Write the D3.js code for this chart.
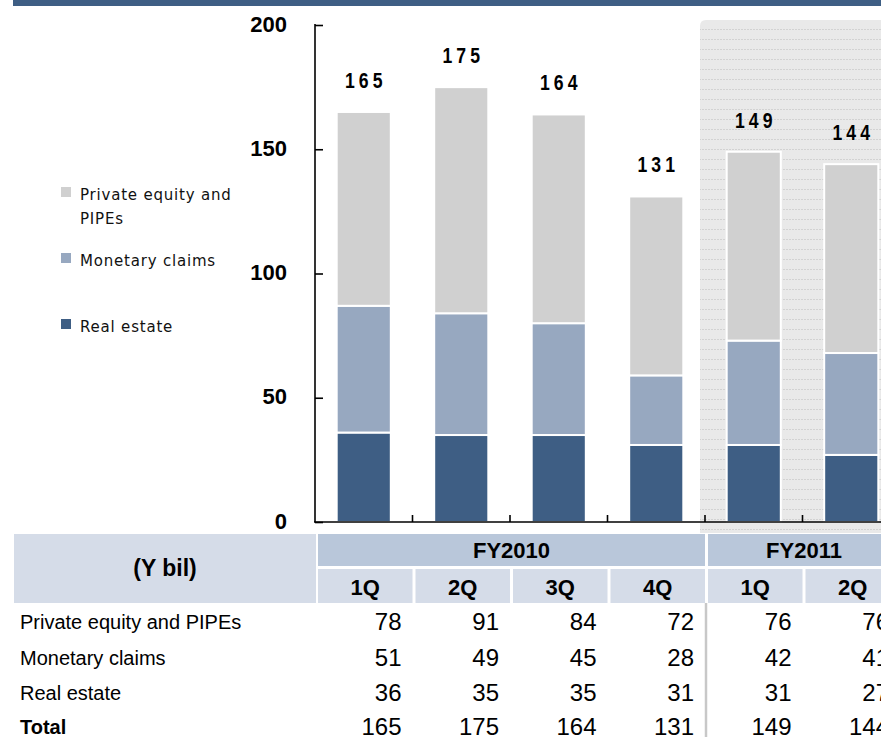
<!DOCTYPE html>
<meta charset="utf-8">
<style>

body {
  margin: 0;
  background: #fff;
}

.axis path,
.axis line {
  stroke: #000;
  stroke-width: 1.6px;
}

.axis text {
  font: bold 22px Arial, "Liberation Sans", sans-serif;
  fill: #000;
}

.legend text {
  font: 15px "DejaVu Sans", sans-serif;
  letter-spacing: 0.8px;
  fill: #111;
}

.totals text {
  font: bold 22px Arial, "Liberation Sans", sans-serif;
  letter-spacing: 5px;
  fill: #000;
}

.table text {
  font-family: Arial, "Liberation Sans", sans-serif;
  fill: #000;
}

</style>
<svg width="881" height="737"></svg>
<script src="https://d3js.org/d3.v7.min.js"></script>
<script>

// values
var years = ["FY2010", "FY2010", "FY2010", "FY2010", "FY2011", "FY2011"];
var quarters = ["1Q", "2Q", "3Q", "4Q", "1Q", "2Q"];
var privateEquity = [78, 91, 84, 72, 76, 76];
var monetaryClaims = [51, 49, 45, 28, 42, 41];
var realEstate = [36, 35, 35, 31, 31, 27];
var totals = [165, 175, 164, 131, 149, 144];
var yTicks = [0, 50, 100, 150, 200];

var seriesNames = ["Private equity and PIPEs", "Monetary claims", "Real estate"];
var colors = {
  "Real estate": "#3e5e84",
  "Monetary claims": "#97a8c0",
  "Private equity and PIPEs": "#d0d0d0"
};

var svg = d3.select("svg"),
    width = +svg.attr("width"),
    height = +svg.attr("height");

var keys = quarters.map(function(q, i) { return years[i] + " " + q; });

var x = d3.scaleBand()
    .domain(keys)
    .range([315, 900]);

var y = d3.scaleLinear()
    .domain([0, 200])
    .range([522, 25]);

var rows = keys.map(function(k, i) {
  return {
    key: k,
    "Real estate": realEstate[i],
    "Monetary claims": monetaryClaims[i],
    "Private equity and PIPEs": privateEquity[i],
    total: totals[i]
  };
});

var stack = d3.stack()
    .keys(["Real estate", "Monetary claims", "Private equity and PIPEs"]);

// top banner
svg.append("rect")
    .attr("x", 13)
    .attr("y", 0)
    .attr("width", width - 13)
    .attr("height", 6)
    .attr("fill", "#3e5e84");

// shaded area behind FY2011
var defs = svg.append("defs");
var pat = defs.append("pattern")
    .attr("id", "stripes")
    .attr("patternUnits", "userSpaceOnUse")
    .attr("width", 6)
    .attr("height", 10)
    .attr("y", 9);
pat.append("rect")
    .attr("width", 6)
    .attr("height", 10)
    .attr("fill", "#e9e9e9");
pat.append("line")
    .attr("x1", 0).attr("x2", 6)
    .attr("y1", 0.5).attr("y2", 0.5)
    .attr("stroke", "#d2d2d2")
    .attr("stroke-dasharray", "2,1");

var shadeX = x(keys[4]) - 5;
svg.append("path")
    .attr("d", "M" + shadeX + ",533V26Q" + shadeX + ",20 " + (shadeX + 6) + ",20H" + (width + 10) + "V533Z")
    .attr("fill", "url(#stripes)");

// bars
var layer = svg.append("g")
    .attr("class", "bars")
  .selectAll("g")
  .data(stack(rows))
  .enter().append("g")
    .attr("fill", function(d) { return colors[d.key]; });

var barW = x.bandwidth() * 0.555;

layer.selectAll("rect")
  .data(function(d) { return d; })
  .enter().append("rect")
    .attr("x", function(d) { return x(d.data.key) + (x.bandwidth() - barW) / 2; })
    .attr("y", function(d) { return y(d[1]); })
    .attr("width", barW)
    .attr("height", function(d) { return y(d[0]) - y(d[1]); })
    .attr("stroke", "#fff")
    .attr("stroke-width", 2);

// totals above bars (condensed look)
svg.append("g")
    .attr("class", "totals")
  .selectAll("text")
  .data(rows)
  .enter().append("text")
    .attr("transform", function(d) {
      return "translate(" + (x(d.key) + x.bandwidth() / 2 + 2) + "," + (y(d.total) - 24) + ") scale(0.8,1)";
    })
    .attr("text-anchor", "middle")
    .text(function(d) { return d.total; });

// y axis
var yAxis = svg.append("g")
    .attr("class", "axis")
    .attr("transform", "translate(315,0)")
    .call(d3.axisRight(y).tickValues(yTicks).tickSize(8).tickFormat(d3.format("d")));
yAxis.select(".domain").remove();
yAxis.append("line")
    .attr("y1", y(0)).attr("y2", y(200) - 1);
yAxis.selectAll("text")
    .attr("x", -28)
    .attr("dy", 6)
    .attr("text-anchor", "end");

// x axis with ticks between categories
var xAxis = svg.append("g")
    .attr("class", "axis");
xAxis.append("line")
    .attr("x1", 314).attr("x2", width)
    .attr("y1", y(0)).attr("y2", y(0));
xAxis.selectAll(".tick")
  .data(keys.slice(1))
  .enter().append("line")
    .attr("x1", function(d) { return x(d); })
    .attr("x2", function(d) { return x(d); })
    .attr("y1", y(0))
    .attr("y2", y(0) - 7);

// legend
var legendPos = [
  { name: seriesNames[0], y: 187, lines: ["Private equity and", "PIPEs"] },
  { name: seriesNames[1], y: 253, lines: ["Monetary claims"] },
  { name: seriesNames[2], y: 319, lines: ["Real estate"] }
];

var legend = svg.append("g")
    .attr("class", "legend")
  .selectAll("g")
  .data(legendPos)
  .enter().append("g");

legend.append("rect")
    .attr("x", 61)
    .attr("y", function(d) { return d.y; })
    .attr("width", 10)
    .attr("height", 10)
    .attr("fill", function(d) { return colors[d.name]; });

legend.append("text")
    .attr("y", function(d) { return d.y + 13; })
    .selectAll("tspan")
    .data(function(d) { return d.lines; })
    .enter().append("tspan")
      .attr("x", 80)
      .attr("dy", function(d, i) { return i ? 24 : 0; })
      .text(function(d) { return d; });

// table
var table = svg.append("g")
    .attr("class", "table");

table.append("rect")
    .attr("x", 14)
    .attr("y", 534)
    .attr("width", 302)
    .attr("height", 69)
    .attr("fill", "#d5dce8");
table.append("text")
    .attr("x", 165)
    .attr("y", 576)
    .attr("text-anchor", "middle")
    .style("font-weight", "bold")
    .style("font-size", "23px")
    .text("(Y bil)");

var fyGroups = d3.groups(keys, function(k) { return k.split(" ")[0]; });

var fy = table.selectAll(".fy")
  .data(fyGroups)
  .enter().append("g")
    .attr("class", "fy");

fy.append("rect")
    .attr("x", function(d) { return x(d[1][0]) + 3; })
    .attr("y", 534)
    .attr("width", function(d) { return x(d[1][d[1].length - 1]) + x.step() - x(d[1][0]) - 3; })
    .attr("height", 32)
    .attr("fill", "#b9c7da");
fy.append("text")
    .attr("x", function(d) { return (x(d[1][0]) + 3 + x(d[1][d[1].length - 1]) + x.step()) / 2; })
    .attr("y", 558)
    .attr("text-anchor", "middle")
    .style("font-weight", "bold")
    .style("font-size", "22px")
    .text(function(d) { return d[0]; });

var qCell = table.selectAll(".q")
  .data(keys)
  .enter().append("g")
    .attr("class", "q");

qCell.append("rect")
    .attr("x", function(d) { return x(d) + 3; })
    .attr("y", 569)
    .attr("width", x.step() - 3)
    .attr("height", 34)
    .attr("fill", "#d5dce8");
qCell.append("text")
    .attr("x", function(d) { return x(d) + 3 + (x.step() - 3) / 2; })
    .attr("y", 595)
    .attr("text-anchor", "middle")
    .style("font-weight", "bold")
    .style("font-size", "22px")
    .text(function(d, i) { return quarters[i]; });

// separator between fiscal years
table.append("line")
    .attr("x1", x(keys[4]) + 1).attr("x2", x(keys[4]) + 1)
    .attr("y1", 603).attr("y2", height)
    .attr("stroke", "#c8c8c8")
    .attr("stroke-width", 2.5);

var tableRows = [
  { label: seriesNames[0], values: privateEquity, y: 630 },
  { label: seriesNames[1], values: monetaryClaims, y: 666 },
  { label: seriesNames[2], values: realEstate, y: 701 },
  { label: "Total", values: totals, y: 735, bold: true }
];

var tr = table.selectAll(".row")
  .data(tableRows)
  .enter().append("g")
    .attr("class", "row");

tr.append("text")
    .attr("x", 20)
    .attr("y", function(d) { return d.y - 1; })
    .style("font-size", "20px")
    .style("font-weight", function(d) { return d.bold ? "bold" : "normal"; })
    .text(function(d) { return d.label; });

tr.selectAll(".num")
  .data(function(d) { return d.values.map(function(v, i) { return { v: v, k: keys[i], y: d.y }; }); })
  .enter().append("text")
    .attr("class", "num")
    .attr("x", function(d) { return x(d.k) + x.step() - 11; })
    .attr("y", function(d) { return d.y; })
    .attr("text-anchor", "end")
    .style("font-size", "24px")
    .text(function(d) { return d.v; });

</script>
